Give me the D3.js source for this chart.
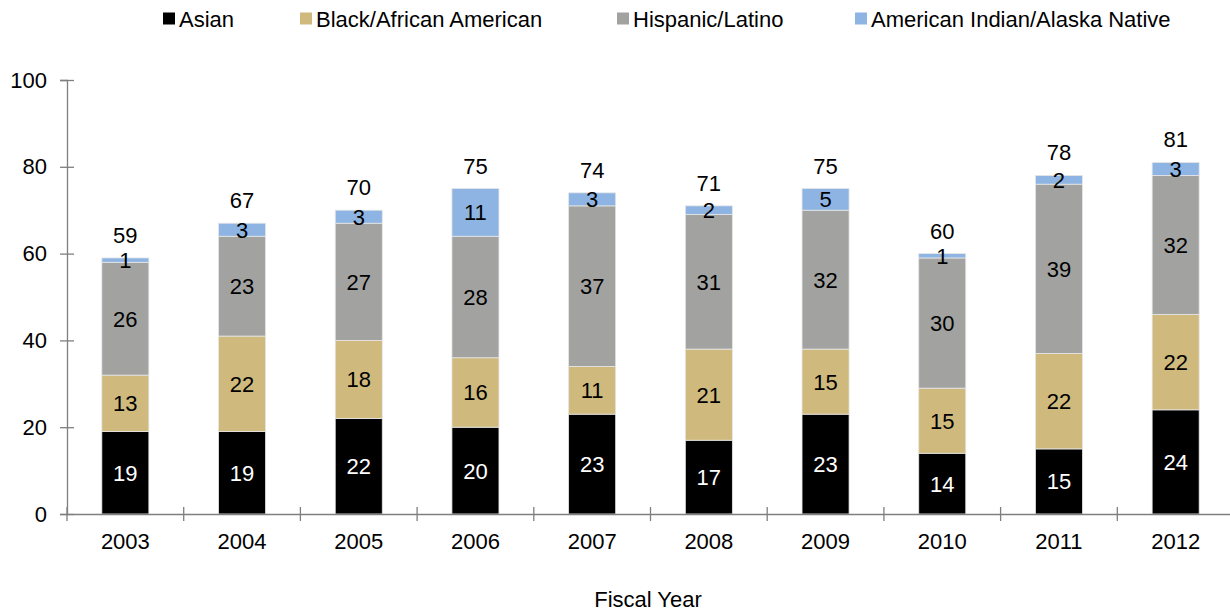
<!DOCTYPE html>
<html><head><meta charset="utf-8">
<script src="https://cdn.jsdelivr.net/npm/d3@7"></script>
<style>body{margin:0;background:#fff}svg{display:block}text{font-family:"Liberation Sans",Arial,sans-serif;}</style>
</head><body>
<svg id="c" width="1230" height="613"></svg>
<script>
const years = ["2003","2004","2005","2006","2007","2008","2009","2010","2011","2012"];
const seriesNames = ["Asian","Black/African American","Hispanic/Latino","American Indian/Alaska Native"];
const asian    = [19,19,22,20,23,17,23,14,15,24];
const black    = [13,22,18,16,11,21,15,15,22,22];
const hispanic = [26,23,27,28,37,31,32,30,39,32];
const aian     = [1,3,3,11,3,2,5,1,2,3];
const totals   = [59,67,70,75,74,71,75,60,78,81];
const yTicks   = [0,20,40,60,80,100];
const colors = ["#000000","#CFB97D","#A2A3A1","#8DB4E2"];
const labelColors = ["#ffffff","#000000","#000000","#000000"];

const svg = d3.select("#c");
const fs = 22;
const ff = "Liberation Sans, Arial, sans-serif";
const x = d3.scaleBand().domain(years).range([67,1234]).paddingInner(0).paddingOuter(0);
const y = d3.scaleLinear().domain([0,100]).range([514,80]);
const barW = x.bandwidth()*0.403;

const rows = years.map((yr,i)=>({year:yr, s0:asian[i], s1:black[i], s2:hispanic[i], s3:aian[i]}));
const stack = d3.stack().keys(["s0","s1","s2","s3"])(rows);

stack.forEach((layer,li)=>{
  svg.append("g").selectAll("rect").data(layer).enter().append("rect")
    .attr("x", d=>x(d.data.year)+x.bandwidth()/2-barW/2)
    .attr("width", barW)
    .attr("y", d=>y(d[1]))
    .attr("height", d=>y(d[0])-y(d[1]))
    .attr("fill", colors[li])
    .attr("stroke","#e6e6e6").attr("stroke-width",0.8);
});
stack.forEach((layer,li)=>{
  svg.append("g").selectAll("text").data(layer).enter().append("text")
    .attr("x", d=>x(d.data.year)+x.bandwidth()/2)
    .attr("y", d=>(y(d[0])+y(d[1]))/2)
    .attr("dy","0.36em")
    .attr("text-anchor","middle")
    .attr("font-size",fs)
    .attr("fill", labelColors[li])
    .text(d=>d[1]-d[0]);
});
// totals
svg.append("g").selectAll("text").data(years).enter().append("text")
  .attr("x", d=>x(d)+x.bandwidth()/2)
  .attr("y", (d,i)=>y(totals[i])-15)
  .attr("text-anchor","middle").attr("font-size",fs).attr("fill","#000")
  .text((d,i)=>totals[i]);

// axes
const axCol = "#7f7f7f";
const yAxis = svg.append("g").attr("transform","translate(67,0)")
  .call(d3.axisLeft(y).tickValues(yTicks).tickSize(7).tickPadding(13));
yAxis.select(".domain").attr("stroke",axCol).attr("stroke-width",1.3);
yAxis.selectAll(".tick line").attr("stroke",axCol).attr("stroke-width",1.3).attr("x2",7).attr("x1",-7);
yAxis.selectAll(".tick text").attr("font-size",fs).attr("fill","#000").attr("font-family",ff);

const xAxis = svg.append("g").attr("transform","translate(0,514)")
  .call(d3.axisBottom(x).tickSize(0).tickPadding(19));
xAxis.select(".domain").attr("stroke",axCol).attr("stroke-width",1.3);
xAxis.selectAll(".tick text").attr("font-size",fs).attr("fill","#000").attr("font-family",ff);
// category boundary ticks
const bounds = years.map(d=>x(d)).concat([x(years[years.length-1])+x.bandwidth()]);
svg.append("g").selectAll("line").data(bounds).enter().append("line")
  .attr("x1",d=>d).attr("x2",d=>d).attr("y1",507).attr("y2",521)
  .attr("stroke",axCol).attr("stroke-width",1.3);

svg.append("text").attr("x",648).attr("y",607).attr("text-anchor","middle")
  .attr("font-size",fs).attr("fill","#000").text("Fiscal Year");

// legend
const legX = [163,300,617,855];
const lg = svg.append("g");
seriesNames.forEach((n,i)=>{
  lg.append("rect").attr("x",legX[i]).attr("y",12.5).attr("width",12).attr("height",12).attr("fill",colors[i]);
  lg.append("text").attr("x",legX[i]+16).attr("y",26.5).attr("font-size",fs).attr("fill","#000").text(n);
});
</script>
</body></html>
